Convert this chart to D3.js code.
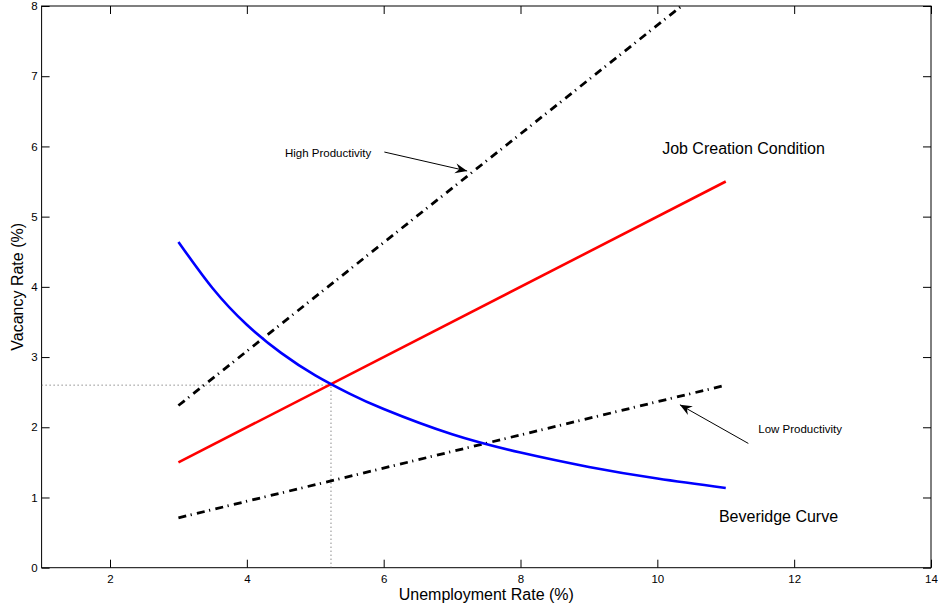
<!DOCTYPE html>
<meta charset="utf-8">
<style>
body { margin: 0; background: #fff; }
svg { font-family: "Liberation Sans", Arial, Helvetica, sans-serif; }
.frame { fill: none; stroke: #000; stroke-width: 1; }
.axis path { display: none; }
.axis line { stroke: #000; }
.curve { fill: none; stroke-width: 2.6; }
.dashdot { stroke: #000; stroke-dasharray: 8,4.5,1.2,5.3; stroke-width: 2.8; }
.guide { fill: none; stroke: #555; stroke-width: 1; stroke-dasharray: 1,3; }
.arrow { stroke: #000; stroke-width: 1; }
</style>
<svg width="938" height="609"></svg>
<script src="https://d3js.org/d3.v7.min.js"></script>
<script>

// unemployment rate (%) and vacancy rate (%)
var beveridgeU = [3, 3.5, 4, 4.5, 5, 5.5, 6, 7, 8, 9, 10, 11];
var beveridgeV = [4.64, 3.98, 3.46, 3.06, 2.74, 2.48, 2.26, 1.9, 1.64, 1.435, 1.27, 1.135];

var lineU = [3, 11];
var jobCreationV = [1.5, 5.5];
var highProdV = [2.31, 8.5];
var lowProdV = [0.71, 2.6];

var equilibrium = [5.23, 2.6];

var xTicks = [2, 4, 6, 8, 10, 12, 14];
var yTicks = [0, 1, 2, 3, 4, 5, 6, 7, 8];

// text labels, left edge and baseline: [u, v, text, size]
var labels = [
  [10.07, 5.89, "Job Creation Condition", 16],
  [10.9, 0.647, "Beveridge Curve", 16],
  [4.557, 5.854, "High Productivity", 11.5],
  [11.475, 1.923, "Low Productivity", 11.5]
];
// arrows: from [u, v] to [u, v]
var arrows = [
  [[6.01, 5.92], [7.22, 5.65]],
  [[11.33, 1.77], [10.33, 2.32]]
];

var svg = d3.select("svg"),
    plotLeft = 41.6, plotRight = 931, plotTop = 6, plotBottom = 567.7;

var x = d3.scaleLinear().domain([1, 14]).range([plotLeft, plotRight]);
var y = d3.scaleLinear().domain([0, 8]).range([plotBottom, plotTop]);

var defs = svg.append("defs");

defs.append("clipPath")
    .attr("id", "plotclip")
  .append("rect")
    .attr("x", plotLeft).attr("y", plotTop)
    .attr("width", plotRight - plotLeft).attr("height", plotBottom - plotTop);

defs.append("marker")
    .attr("id", "head")
    .attr("viewBox", "-13 -6 15 12")
    .attr("markerUnits", "userSpaceOnUse")
    .attr("markerWidth", 15).attr("markerHeight", 12)
    .attr("refX", 0).attr("refY", 0)
    .attr("orient", "auto")
  .append("path")
    .attr("d", "M0,0L-12,-5L-8,0L-12,5Z")
    .attr("fill", "#000");

function styleAxis(g) {
  g.attr("font-size", 11.5)
      .attr("font-family", "Liberation Sans, Arial, sans-serif");
  g.selectAll("text").style("font-size", "11.5px").attr("fill", "#000");
}

// axes, ticks pointing inwards on all four sides
svg.append("g")
    .attr("class", "axis")
    .attr("transform", "translate(0," + plotBottom + ")")
    .call(d3.axisBottom(x).tickValues(xTicks).tickSizeInner(-8).tickSizeOuter(0).tickPadding(7))
    .call(styleAxis);

svg.append("g")
    .attr("class", "axis")
    .attr("transform", "translate(0," + plotTop + ")")
    .call(d3.axisTop(x).tickValues(xTicks).tickSizeInner(-8).tickSizeOuter(0).tickFormat(""));

svg.append("g")
    .attr("class", "axis")
    .attr("transform", "translate(" + plotLeft + ",0)")
    .call(d3.axisLeft(y).tickValues(yTicks).tickSizeInner(-8).tickSizeOuter(0).tickPadding(4))
    .call(styleAxis);

svg.append("g")
    .attr("class", "axis")
    .attr("transform", "translate(" + plotRight + ",0)")
    .call(d3.axisRight(y).tickValues(yTicks).tickSizeInner(-8).tickSizeOuter(0).tickFormat(""));

svg.append("rect")
    .attr("class", "frame")
    .attr("x", plotLeft).attr("y", plotTop)
    .attr("width", plotRight - plotLeft).attr("height", plotBottom - plotTop);

var line = d3.line()
    .x(function(d) { return x(d[0]); })
    .y(function(d) { return y(d[1]); });

// dotted guides to the equilibrium point
svg.append("path")
    .attr("class", "guide")
    .attr("d", line([[1, equilibrium[1]], equilibrium]));
svg.append("path")
    .attr("class", "guide")
    .attr("d", line([[equilibrium[0], 0], equilibrium]));

var plot = svg.append("g").attr("clip-path", "url(#plotclip)");

function series(us, vs) {
  return us.map(function(u, i) { return [u, vs[i]]; });
}

plot.append("path")
    .attr("class", "curve dashdot")
    .attr("d", line(series(lineU, highProdV)));

plot.append("path")
    .attr("class", "curve dashdot")
    .attr("d", line(series(lineU, lowProdV)));

plot.append("path")
    .attr("class", "curve")
    .attr("stroke", "#ff0000")
    .attr("d", line(series(lineU, jobCreationV)));

var smooth = d3.line()
    .x(function(d) { return x(d[0]); })
    .y(function(d) { return y(d[1]); })
    .curve(d3.curveNatural);

plot.append("path")
    .attr("class", "curve")
    .attr("stroke", "#0000ff")
    .attr("d", smooth(series(beveridgeU, beveridgeV)));

// annotations
svg.selectAll(".arrow")
  .data(arrows)
  .enter().append("line")
    .attr("class", "arrow")
    .attr("x1", function(d) { return x(d[0][0]); })
    .attr("y1", function(d) { return y(d[0][1]); })
    .attr("x2", function(d) { return x(d[1][0]); })
    .attr("y2", function(d) { return y(d[1][1]); })
    .attr("marker-end", "url(#head)");

svg.selectAll(".label")
  .data(labels)
  .enter().append("text")
    .attr("class", "label")
    .attr("x", function(d) { return x(d[0]); })
    .attr("y", function(d) { return y(d[1]); })
    .style("font-size", function(d) { return d[3] + "px"; })
    .text(function(d) { return d[2]; });

// axis titles
svg.append("text")
    .attr("x", (plotLeft + plotRight) / 2)
    .attr("y", 600)
    .attr("text-anchor", "middle")
    .style("font-size", "16px")
    .text("Unemployment Rate (%)");

svg.append("text")
    .attr("transform", "translate(23," + (plotTop + plotBottom) / 2 + ") rotate(-90)")
    .attr("text-anchor", "middle")
    .style("font-size", "16px")
    .text("Vacancy Rate (%)");

</script>
